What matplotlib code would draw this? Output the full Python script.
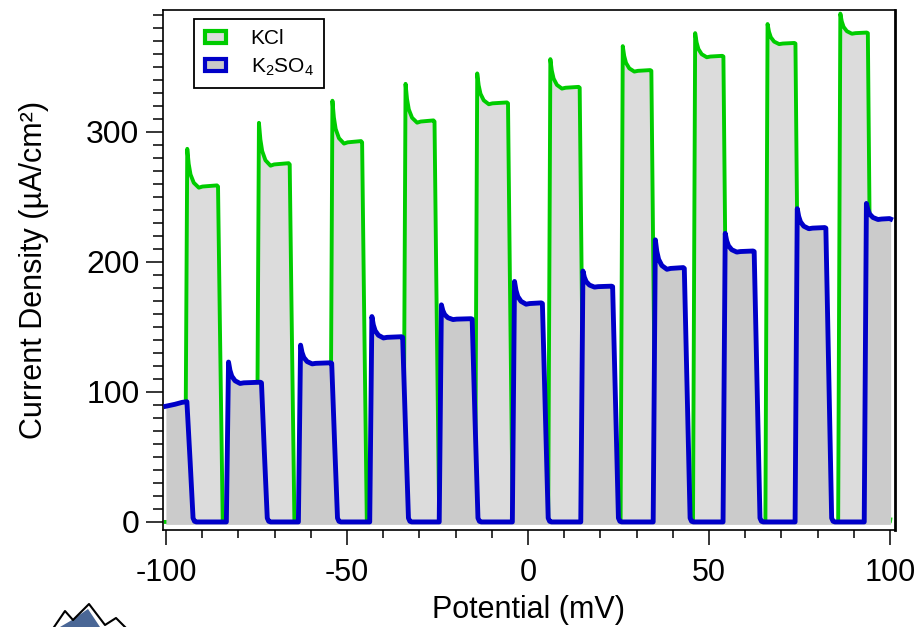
import matplotlib.pyplot as plt
from matplotlib.patches import Patch
from matplotlib.ticker import MultipleLocator

plt.rcParams['font.family'] = ['Liberation Sans', 'DejaVu Sans']
plt.rcParams['mathtext.fontset'] = 'custom'
plt.rcParams['mathtext.rm'] = 'Liberation Sans'
plt.rcParams['mathtext.it'] = 'Liberation Sans'
plt.rcParams['axes.unicode_minus'] = False

# KCl pulses (mV where the pulse starts / ends, peak and plateau current)
kcl_on = [-94.7, -74.9, -54.6, -34.4, -14.6, 5.6, 25.6, 45.6, 65.6, 85.7]
kcl_off = [-85.6, -65.8, -45.8, -25.8, -5.5, 14.3, 34.1, 54.0, 73.9, 93.9]
kcl_peak = [287, 307, 324, 337, 345, 356, 366, 376, 383, 391]
kcl_plateau = [258, 275, 292, 308, 322, 334, 347, 358, 368, 376]

# K2SO4 pulses
k2so4_start = [(-100, 89), (-97.5, 90.5), (-95.5, 92), (-94.2, 92.5)]
k2so4_on = [-83.3, -63.4, -43.7, -24.5, -4.3, 14.6, 34.6, 53.9, 73.8, 92.9]
k2so4_off = [-94.1, -73.6, -54.2, -34.6, -15.4, 4.0, 23.4, 43.2, 62.5, 82.3]
k2so4_peak = [123, 136, 158, 167, 185, 193, 217, 222, 241, 245]
k2so4_plateau = [107, 122, 142, 156, 168, 181, 195, 208, 226, 233]

green = '#00cc00'
blue = '#0000c8'


def pulse(on, off, peak, plat):
    d = peak - plat
    xs = [on, on + 0.6, on + 1.0, on + 1.5, on + 2.4, on + 3.8, on + 4.8, off - 0.3, off]
    ys = [0, peak, plat + 0.6 * d, plat + 0.32 * d, plat + 0.1 * d, plat - 0.03 * d, plat, plat + 0.03 * d, plat]
    return xs, ys


# build KCl trace
gx, gy = [-100.0], [0.0]
for on, off, pk, pl in zip(kcl_on, kcl_off, kcl_peak, kcl_plateau):
    xs, ys = pulse(on, off, pk, pl)
    gx += xs + [off + 0.5, off + 1.3]
    gy += ys + [pl * 0.6, 0]
gx += [100.0, 100.1]
gy += [0, 2]

# build K2SO4 trace
bx = [p[0] for p in k2so4_start]
by = [p[1] for p in k2so4_start]
offs = k2so4_off
for i, (on, pk, pl) in enumerate(zip(k2so4_on, k2so4_peak, k2so4_plateau)):
    prev = offs[i]
    bx += [prev + 0.8, prev + 1.6, prev + 2.0, prev + 2.5]
    by += [by[-1] * 0.5, 3, 0.5, 0]
    xs, ys = pulse(on, offs[i + 1] if i + 1 < len(offs) else 100.2, pk, pl)
    bx += xs
    by += ys

fig = plt.figure(figsize=(9.19, 6.27), dpi=100)
ax = fig.add_axes([163 / 919, 1 - 530 / 627, 732 / 919, 520 / 627])

ax.fill_between(gx, gy, -1.8, color='#dcdcdc', lw=0, zorder=1)
ax.plot(gx, gy, color=green, lw=2.8, zorder=2)
ax.fill_between(bx, by, -1.8, color='#cbcbcb', lw=0, zorder=3)
ax.plot(bx, by, color=blue, lw=3.5, zorder=4, solid_joinstyle='round')

ax.set_xlim(-100.8, 101.4)
ax.set_ylim(-6.2, 393.8)
ax.xaxis.set_major_locator(MultipleLocator(50))
ax.xaxis.set_minor_locator(MultipleLocator(10))
ax.yaxis.set_major_locator(MultipleLocator(100))
ax.yaxis.set_minor_locator(MultipleLocator(10))
ax.tick_params(axis='x', which='major', direction='out', length=11, width=1.1, labelsize=22, pad=9)
ax.tick_params(axis='x', which='minor', direction='out', length=6, width=1.1)
ax.tick_params(axis='y', which='major', direction='out', length=12, width=1.1, labelsize=23, pad=5)
ax.tick_params(axis='y', which='minor', direction='out', length=7, width=1.1)
for s in ax.spines.values():
    s.set_linewidth(1.2)
ax.spines['right'].set_linewidth(2)

ax.set_xlabel('Potential (mV)', fontsize=22, labelpad=5)
ax.set_ylabel('Current Density (µA/cm²)', fontsize=22, labelpad=27)

handles = [Patch(facecolor='#dcdcdc', edgecolor=green, lw=3),
           Patch(facecolor='#c8c8c8', edgecolor=blue, lw=3)]
leg = ax.legend(handles, ['KCl', 'K$_2$SO$_4$'], loc='upper left',
                bbox_to_anchor=(0.043, 0.983), borderaxespad=0, fontsize=15,
                fancybox=False, framealpha=1, edgecolor='black',
                handlelength=1.0, handleheight=0.55, borderpad=0.5,
                labelspacing=0.4, handletextpad=1.2)
leg.get_frame().set_linewidth(1.3)

# small mountain logo in lower-left corner
fig.lines.append(plt.Line2D([50 / 919, 65 / 919, 73 / 919, 89 / 919, 105 / 919, 116 / 919, 125 / 919],
                            [1 - 633 / 627, 1 - 611 / 627, 1 - 620 / 627, 1 - 604 / 627, 1 - 625 / 627, 1 - 618 / 627, 1 - 627 / 627],
                            transform=fig.transFigure, color='black', lw=1.5))
fig.patches.append(plt.Polygon([[60 / 919, 0], [72 / 919, 1 - 620 / 627], [88 / 919, 1 - 609 / 627], [100 / 919, 0]],
                               closed=True, transform=fig.transFigure, facecolor='#4a6796', edgecolor='none'))

fig.savefig('out.png', dpi=100)
